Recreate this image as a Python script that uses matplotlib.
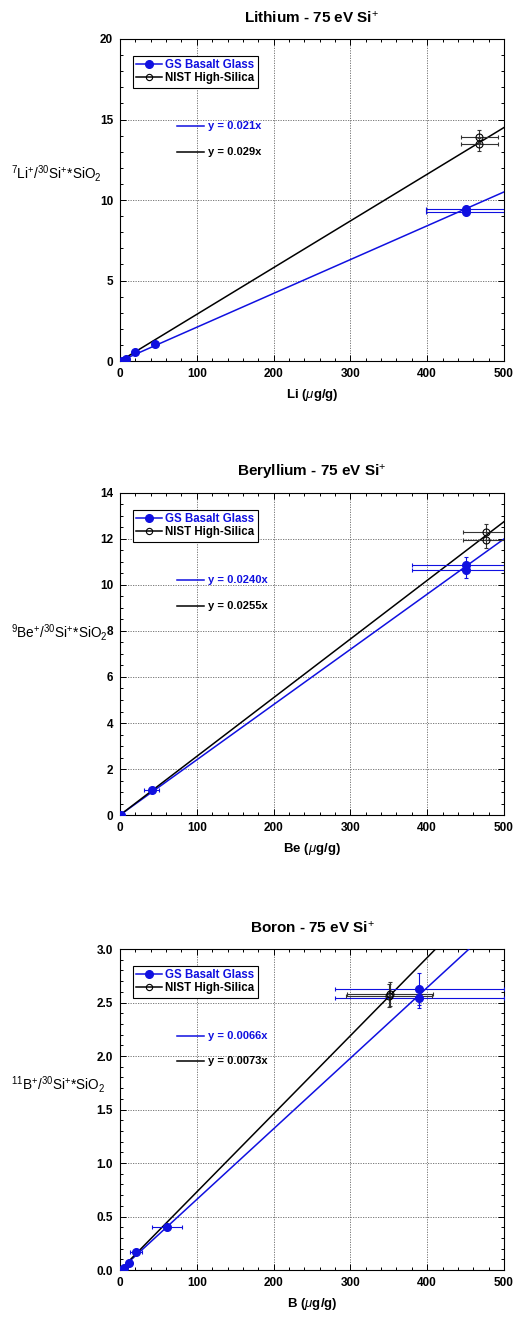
import matplotlib
matplotlib.use("Agg")
import matplotlib.pyplot as plt
from matplotlib.ticker import MultipleLocator, FormatStrFormatter
from matplotlib.lines import Line2D
import numpy as np

plt.rcParams['font.family'] = ['Liberation Sans', 'DejaVu Sans']
plt.rcParams['mathtext.fontset'] = 'custom'
plt.rcParams['mathtext.rm'] = 'Liberation Sans'
plt.rcParams['mathtext.it'] = 'Liberation Sans:italic'
plt.rcParams['mathtext.bf'] = 'Liberation Sans:bold'
plt.rcParams['mathtext.default'] = 'rm'

BLUE = '#1010e0'

# ---------------- data ----------------
# Lithium
li_gs_x = [2, 8, 20, 46, 450, 450]
li_gs_y = [0.0, 0.15, 0.55, 1.05, 9.25, 9.45]
li_gs_xerr = [0, 0, 0, 0, 51, 51]
li_gs_yerr = [0, 0, 0, 0.05, 0.2, 0.2]
li_nist_x = [468, 468]
li_nist_y = [13.46, 13.93]
li_nist_xerr = [24, 24]
li_nist_yerr = [0.4, 0.4]
li_slopes = [0.021, 0.029]
li_labels = ['y = 0.021x', 'y = 0.029x']

# Beryllium
be_gs_x = [1, 41, 450, 450]
be_gs_y = [0.0, 1.08, 10.65, 10.87]
be_gs_xerr = [0, 10, 70, 70]
be_gs_yerr = [0, 0.05, 0.35, 0.35]
be_nist_x = [477, 477]
be_nist_y = [11.96, 12.3]
be_nist_xerr = [30, 30]
be_nist_yerr = [0.35, 0.35]
be_slopes = [0.0240, 0.0255]
be_labels = ['y = 0.0240x', 'y = 0.0255x']

# Boron
b_gs_x = [2, 5, 12, 21, 61, 390, 390]
b_gs_y = [0.0, 0.02, 0.07, 0.17, 0.40, 2.545, 2.63]
b_gs_xerr = [0, 0, 0, 8, 20, 110, 110]
b_gs_yerr = [0, 0, 0, 0, 0.03, 0.1, 0.15]
b_nist_x = [350, 351]
b_nist_y = [2.565, 2.58]
b_nist_xerr = [56, 56]
b_nist_yerr = [0.11, 0.11]
b_slopes = [0.0066, 0.0073]
b_labels = ['y = 0.0066x', 'y = 0.0073x']

fit_x = np.array([0.0, 500.0])

panels = [
    dict(title='Lithium - 75 eV Si$^{+}$', xlabel='Li ($\\mathit{\\mu}$g/g)',
         ylabel='$^{7}$Li$^{+}$/$^{30}$Si$^{+}$*SiO$_{2}$',
         gs=(li_gs_x, li_gs_y, li_gs_xerr, li_gs_yerr),
         nist=(li_nist_x, li_nist_y, li_nist_xerr, li_nist_yerr),
         slopes=li_slopes, labels=li_labels,
         ylim=(0, 20), ymaj=5, ymin=1, yfmt='%d', ylab_y=0.568,
         pos=[0.2326, 0.7269, 0.744, 0.2436]),
    dict(title='Beryllium - 75 eV Si$^{+}$', xlabel='Be ($\\mathit{\\mu}$g/g)',
         ylabel='$^{9}$Be$^{+}$/$^{30}$Si$^{+}$*SiO$_{2}$',
         gs=(be_gs_x, be_gs_y, be_gs_xerr, be_gs_yerr),
         nist=(be_nist_x, be_nist_y, be_nist_xerr, be_nist_yerr),
         slopes=be_slopes, labels=be_labels,
         ylim=(0, 14), ymaj=2, ymin=0.5, yfmt='%d', ylab_y=0.55,
         pos=[0.2326, 0.3835, 0.744, 0.2436]),
    dict(title='Boron - 75 eV Si$^{+}$', xlabel='B ($\\mathit{\\mu}$g/g)',
         ylabel='$^{11}$B$^{+}$/$^{30}$Si$^{+}$*SiO$_{2}$',
         gs=(b_gs_x, b_gs_y, b_gs_xerr, b_gs_yerr),
         nist=(b_nist_x, b_nist_y, b_nist_xerr, b_nist_yerr),
         slopes=b_slopes, labels=b_labels,
         ylim=(0, 3.0), ymaj=0.5, ymin=0.1, yfmt='%.1f', ylab_y=0.561,
         pos=[0.2326, 0.0393, 0.744, 0.2428]),
]

fig = plt.figure(figsize=(5.16, 13.22), dpi=100)

for p in panels:
    ax = fig.add_axes(p['pos'])
    ax.set_xlim(0, 500)
    ax.set_ylim(*p['ylim'])
    ax.xaxis.set_major_locator(MultipleLocator(100))
    ax.xaxis.set_minor_locator(MultipleLocator(20))
    ax.yaxis.set_major_locator(MultipleLocator(p['ymaj']))
    ax.yaxis.set_minor_locator(MultipleLocator(p['ymin']))
    ax.yaxis.set_major_formatter(FormatStrFormatter(p['yfmt']))
    ax.tick_params(which='both', direction='in', top=True, right=True,
                   width=0.7, labelsize=8.5)
    ax.tick_params(which='major', length=4, pad=5)
    ax.tick_params(which='minor', length=2.5)
    for lab in ax.get_xticklabels() + ax.get_yticklabels():
        lab.set_fontweight('bold')
    for s in ax.spines.values():
        s.set_linewidth(0.8)
    ax.grid(True, which='major', linestyle=(0, (1.5, 1.5)), color='#666666', linewidth=0.6)
    ax.set_axisbelow(True)

    # fit lines
    ax.plot(fit_x, p['slopes'][0] * fit_x, color=BLUE, lw=1.1, zorder=3)
    ax.plot(fit_x, p['slopes'][1] * fit_x, color='black', lw=1.1, zorder=3)

    gx, gy, gxe, gye = p['gs']
    ax.errorbar(gx, gy, xerr=gxe, yerr=gye, fmt='o', color=BLUE, ms=5.5,
                mec=BLUE, mfc=BLUE, elinewidth=0.8, capsize=1.5, capthick=0.8, zorder=4)
    nx, ny, nxe, nye = p['nist']
    ax.errorbar(nx, ny, xerr=nxe, yerr=nye, fmt='o', color='black', ms=5,
                mec='black', mfc='none', mew=0.8, elinewidth=0.8, capsize=1.5,
                capthick=0.8, zorder=4, ecolor='#333333')

    # legend
    handles = [Line2D([0], [0], color=BLUE, marker='o', ms=5.5, lw=1.1, mfc=BLUE),
               Line2D([0], [0], color='black', marker='o', ms=4.5, lw=1.1, mfc='none', mew=0.8)]
    leg = ax.legend(handles, ['GS Basalt Glass', 'NIST High-Silica'], loc='upper left',
                    bbox_to_anchor=(0.033, 0.948), borderaxespad=0, fancybox=False,
                    edgecolor='black', framealpha=1, handlelength=2.2, handletextpad=0.3,
                    borderpad=0.3, labelspacing=0.1,
                    prop={'family': 'Liberation Sans', 'weight': 'bold', 'size': 8.3})
    leg.get_frame().set_linewidth(0.8)
    leg.get_texts()[0].set_color(BLUE)

    # fit annotations
    ax.plot([0.148, 0.22], [0.73, 0.73], transform=ax.transAxes, color=BLUE, lw=1.1)
    ax.plot([0.148, 0.22], [0.65, 0.65], transform=ax.transAxes, color='black', lw=1.1)
    ax.text(0.228, 0.73, p['labels'][0], transform=ax.transAxes, color=BLUE,
            fontsize=8.0, fontweight='bold', va='center', ha='left')
    ax.text(0.228, 0.65, p['labels'][1], transform=ax.transAxes, color='black',
            fontsize=8.0, fontweight='bold', va='center', ha='left')

    ax.set_title(p['title'], fontsize=11, fontweight='bold', pad=12)
    ax.set_xlabel(p['xlabel'], fontsize=9.5, fontweight='bold', labelpad=5)
    ax.text(-0.283, p['ylab_y'], p['ylabel'], transform=ax.transAxes, fontsize=9.8,
            ha='left', va='baseline')

fig.savefig('out.png', dpi=100)
